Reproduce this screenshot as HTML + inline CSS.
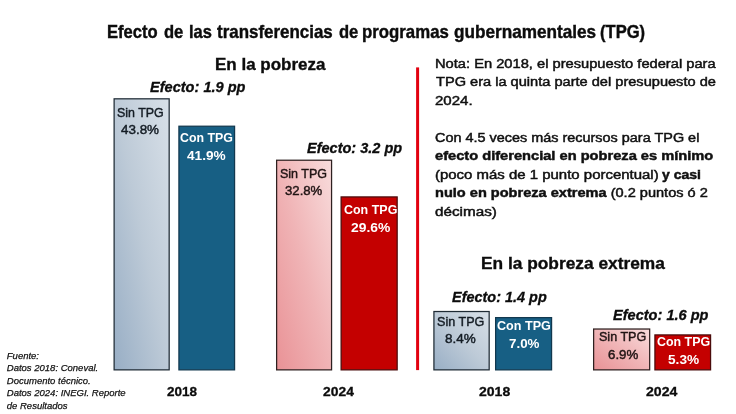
<!DOCTYPE html>
<html><head><meta charset="utf-8"><style>
html,body{margin:0;padding:0;background:#fff;}
body{width:736px;height:414px;position:relative;overflow:hidden;font-family:"Liberation Sans",sans-serif;color:#000;}
.t{position:absolute;white-space:nowrap;transform-origin:0 0;line-height:1;}
#tx{position:absolute;left:0;top:0;width:736px;height:414px;will-change:transform;}
svg{position:absolute;left:0;top:0;}
</style></head><body>
<svg width="736" height="414" viewBox="0 0 736 414"><defs>
<linearGradient id="gb" x1="0" y1="1" x2="1" y2="0"><stop offset="0" stop-color="#98aec5"/><stop offset="0.5" stop-color="#bdcad7"/><stop offset="1" stop-color="#d8e0e8"/></linearGradient>
<linearGradient id="gp" x1="0" y1="1" x2="1" y2="0"><stop offset="0" stop-color="#e99296"/><stop offset="0.5" stop-color="#f0b4b6"/><stop offset="1" stop-color="#f8dcdc"/></linearGradient>
</defs>
<rect x="114.12" y="98.82" width="55.05" height="271.05" fill="url(#gb)" stroke="#1f2b35" stroke-width="1.25"/>
<rect x="178.92" y="126.22" width="55.65" height="243.65" fill="#175f84" stroke="#12384e" stroke-width="1.25"/>
<rect x="276.62" y="160.22" width="54.95" height="209.65" fill="url(#gp)" stroke="#2e2020" stroke-width="1.25"/>
<rect x="341.12" y="196.92" width="56.05" height="172.95" fill="#c40000" stroke="#4a0c0c" stroke-width="1.25"/>
<rect x="433.92" y="311.52" width="55.25" height="58.35" fill="url(#gb)" stroke="#1f2b35" stroke-width="1.25"/>
<rect x="495.62" y="317.62" width="55.95" height="52.25" fill="#175f84" stroke="#12384e" stroke-width="1.25"/>
<rect x="593.62" y="329.02" width="56.05" height="40.85" fill="url(#gp)" stroke="#2e2020" stroke-width="1.25"/>
<rect x="654.92" y="334.92" width="55.65" height="34.95" fill="#c40000" stroke="#4a0c0c" stroke-width="1.25"/>
<rect x="416.1" y="67.4" width="3" height="302.70" fill="#e2000f"/>
</svg>
<div id="tx">
<div class="t" id="t0" style="left:107.14px;top:23.93px;font-size:17.8px;transform:scaleX(0.9324);font-weight:bold;color:#0c0c0c;-webkit-text-stroke:0.4px #0c0c0c;">Efecto</div>
<div class="t" id="t1" style="left:163.81px;top:23.93px;font-size:17.8px;transform:scaleX(0.9316);font-weight:bold;color:#0c0c0c;-webkit-text-stroke:0.4px #0c0c0c;">de</div>
<div class="t" id="t2" style="left:189.43px;top:23.93px;font-size:17.8px;transform:scaleX(0.9255);font-weight:bold;color:#0c0c0c;-webkit-text-stroke:0.4px #0c0c0c;">las</div>
<div class="t" id="t3" style="left:217.28px;top:23.93px;font-size:17.8px;transform:scaleX(0.9518);font-weight:bold;color:#0c0c0c;-webkit-text-stroke:0.4px #0c0c0c;">transferencias</div>
<div class="t" id="t4" style="left:338.81px;top:23.93px;font-size:17.8px;transform:scaleX(0.9316);font-weight:bold;color:#0c0c0c;-webkit-text-stroke:0.4px #0c0c0c;">de</div>
<div class="t" id="t5" style="left:361.90px;top:23.93px;font-size:17.8px;transform:scaleX(0.9447);font-weight:bold;color:#0c0c0c;-webkit-text-stroke:0.4px #0c0c0c;">programas</div>
<div class="t" id="t6" style="left:454.25px;top:23.93px;font-size:17.8px;transform:scaleX(0.9655);font-weight:bold;color:#0c0c0c;-webkit-text-stroke:0.4px #0c0c0c;">gubernamentales</div>
<div class="t" id="t7" style="left:600.00px;top:23.93px;font-size:17.8px;transform:scaleX(0.9325);font-weight:bold;color:#0c0c0c;-webkit-text-stroke:0.4px #0c0c0c;">(TPG)</div>
<div class="t" id="h1" style="left:214.75px;top:57.46px;font-size:16.7px;transform:scaleX(1.0183);font-weight:bold;color:#0c0c0c;-webkit-text-stroke:0.35px #0c0c0c;">En la pobreza</div>
<div class="t" id="h2" style="left:481.34px;top:255.66px;font-size:16.7px;transform:scaleX(1.0381);font-weight:bold;color:#0c0c0c;-webkit-text-stroke:0.35px #0c0c0c;">En la pobreza extrema</div>
<div class="t" id="e1" style="left:149.59px;top:79.65px;font-size:14px;transform:scaleX(1.0397);font-weight:bold;font-style:italic;color:#0c0c0c;-webkit-text-stroke:0.3px #0c0c0c;">Efecto: 1.9 pp</div>
<div class="t" id="e2" style="left:306.70px;top:140.55px;font-size:14px;transform:scaleX(1.0364);font-weight:bold;font-style:italic;color:#0c0c0c;-webkit-text-stroke:0.3px #0c0c0c;">Efecto: 3.2 pp</div>
<div class="t" id="e3" style="left:451.50px;top:289.85px;font-size:14px;transform:scaleX(1.0320);font-weight:bold;font-style:italic;color:#0c0c0c;-webkit-text-stroke:0.3px #0c0c0c;">Efecto: 1.4 pp</div>
<div class="t" id="e4" style="left:613.29px;top:308.15px;font-size:14px;transform:scaleX(1.0397);font-weight:bold;font-style:italic;color:#0c0c0c;-webkit-text-stroke:0.3px #0c0c0c;">Efecto: 1.6 pp</div>
<div class="t" id="y1" style="left:167.02px;top:385.00px;font-size:13px;transform:scaleX(1.0403);font-weight:bold;color:#0c0c0c;-webkit-text-stroke:0.3px #0c0c0c;">2018</div>
<div class="t" id="y2" style="left:323.10px;top:385.00px;font-size:13px;transform:scaleX(1.0664);font-weight:bold;color:#0c0c0c;-webkit-text-stroke:0.3px #0c0c0c;">2024</div>
<div class="t" id="y3" style="left:478.99px;top:385.00px;font-size:13px;transform:scaleX(1.0799);font-weight:bold;color:#0c0c0c;-webkit-text-stroke:0.3px #0c0c0c;">2018</div>
<div class="t" id="y4" style="left:646.09px;top:385.00px;font-size:13px;transform:scaleX(1.0845);font-weight:bold;color:#0c0c0c;-webkit-text-stroke:0.3px #0c0c0c;">2024</div>
<div class="t" id="l1a" style="left:116.73px;top:105.79px;font-size:13.6px;transform:scaleX(0.9135);color:#141c24;-webkit-text-stroke:0.45px #141c24;">Sin TPG</div>
<div class="t" id="l1b" style="left:121.15px;top:122.69px;font-size:13.6px;transform:scaleX(0.9871);color:#141c24;-webkit-text-stroke:0.45px #141c24;">43.8%</div>
<div class="t" id="l2a" style="left:180.16px;top:131.49px;font-size:13.6px;transform:scaleX(0.9101);color:#fff;font-weight:bold;">Con TPG</div>
<div class="t" id="l2b" style="left:187.46px;top:149.09px;font-size:13.6px;transform:scaleX(1.0041);color:#fff;font-weight:bold;">41.9%</div>
<div class="t" id="l3a" style="left:280.22px;top:166.89px;font-size:13.6px;transform:scaleX(0.9195);color:#201414;-webkit-text-stroke:0.45px #201414;">Sin TPG</div>
<div class="t" id="l3b" style="left:285.16px;top:184.19px;font-size:13.6px;transform:scaleX(0.9682);color:#201414;-webkit-text-stroke:0.45px #201414;">32.8%</div>
<div class="t" id="l4a" style="left:343.96px;top:203.29px;font-size:13.6px;transform:scaleX(0.9172);color:#fff;font-weight:bold;">Con TPG</div>
<div class="t" id="l4b" style="left:350.96px;top:220.79px;font-size:13.6px;transform:scaleX(1.0198);color:#fff;font-weight:bold;">29.6%</div>
<div class="t" id="l5a" style="left:437.22px;top:314.59px;font-size:13.6px;transform:scaleX(0.9256);color:#141c24;-webkit-text-stroke:0.45px #141c24;">Sin TPG</div>
<div class="t" id="l5b" style="left:445.00px;top:332.19px;font-size:13.6px;transform:scaleX(0.9922);color:#141c24;-webkit-text-stroke:0.45px #141c24;">8.4%</div>
<div class="t" id="l6a" style="left:497.05px;top:319.49px;font-size:13.6px;transform:scaleX(0.9261);color:#fff;font-weight:bold;">Con TPG</div>
<div class="t" id="l6b" style="left:508.72px;top:337.49px;font-size:13.6px;transform:scaleX(0.9826);color:#fff;font-weight:bold;">7.0%</div>
<div class="t" id="l7a" style="left:599.22px;top:329.99px;font-size:13.6px;transform:scaleX(0.9236);color:#201414;-webkit-text-stroke:0.45px #201414;">Sin TPG</div>
<div class="t" id="l7b" style="left:607.55px;top:347.59px;font-size:13.6px;transform:scaleX(0.9776);color:#201414;-webkit-text-stroke:0.45px #201414;">6.9%</div>
<div class="t" id="l8a" style="left:656.76px;top:335.49px;font-size:13.6px;transform:scaleX(0.9137);color:#fff;font-weight:bold;">Con TPG</div>
<div class="t" id="l8b" style="left:668.16px;top:352.79px;font-size:13.6px;transform:scaleX(1.0043);color:#fff;font-weight:bold;">5.3%</div>
<div class="t" id="n1" style="left:434.75px;top:57.69px;font-size:12.3px;transform:scaleX(1.1933);color:#101010;-webkit-text-stroke:0.45px #101010;">Nota: En 2018, el presupuesto federal para</div>
<div class="t" id="n2" style="left:435.59px;top:76.19px;font-size:12.3px;transform:scaleX(1.1867);color:#101010;-webkit-text-stroke:0.45px #101010;">TPG era la quinta parte del presupuesto de</div>
<div class="t" id="n3" style="left:434.93px;top:94.79px;font-size:12.3px;transform:scaleX(1.2219);color:#101010;-webkit-text-stroke:0.45px #101010;">2024.</div>
<div class="t" id="n4" style="left:434.95px;top:131.69px;font-size:12.3px;transform:scaleX(1.1732);color:#101010;-webkit-text-stroke:0.45px #101010;">Con 4.5 veces más recursos para TPG el</div>
<div class="t" id="n5" style="left:435.02px;top:150.19px;font-size:12.3px;transform:scaleX(1.1907);color:#101010;-webkit-text-stroke:0.45px #101010;"><b>efecto diferencial en pobreza es mínimo</b></div>
<div class="t" id="n6" style="left:434.80px;top:168.79px;font-size:12.3px;transform:scaleX(1.2162);color:#101010;-webkit-text-stroke:0.45px #101010;">(poco más de 1 punto porcentual)</div>
<div class="t" id="n7" style="left:435.03px;top:187.19px;font-size:12.3px;transform:scaleX(1.1844);color:#101010;-webkit-text-stroke:0.45px #101010;"><b>nulo en pobreza extrema</b> (0.2 puntos ó 2</div>
<div class="t" id="n8" style="left:435.07px;top:205.69px;font-size:12.3px;transform:scaleX(1.2405);color:#101010;-webkit-text-stroke:0.45px #101010;">décimas)</div>
<div class="t" id="n6b" style="left:661.89px;top:168.79px;font-size:12.3px;transform:scaleX(1.1410);color:#101010;-webkit-text-stroke:0.45px #101010;"><b>y casi</b></div>
<div class="t" id="s1" style="left:6.8px;top:350.56px;font-size:9.5px;font-style:italic;color:#111;-webkit-text-stroke:0.25px #111;">Fuente:</div>
<div class="t" id="s2" style="left:6.8px;top:363.16px;font-size:9.5px;font-style:italic;color:#111;-webkit-text-stroke:0.25px #111;">Datos 2018: Coneval.</div>
<div class="t" id="s3" style="left:6.8px;top:375.76px;font-size:9.5px;font-style:italic;color:#111;-webkit-text-stroke:0.25px #111;">Documento técnico.</div>
<div class="t" id="s4" style="left:6.8px;top:388.36px;font-size:9.5px;font-style:italic;color:#111;-webkit-text-stroke:0.25px #111;">Datos 2024: INEGI. Reporte</div>
<div class="t" id="s5" style="left:6.8px;top:400.96px;font-size:9.5px;font-style:italic;color:#111;-webkit-text-stroke:0.25px #111;">de Resultados</div>
</div>
</body></html>
